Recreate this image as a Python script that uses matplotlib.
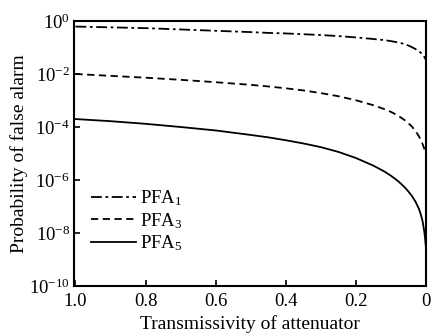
import matplotlib
matplotlib.use("Agg")
import matplotlib.pyplot as plt
import numpy as np

# -----------------------------------------
# Data (log10 of PFA)
# -----------------------------------------

transmissivity = [1.0, 0.9, 0.8, 0.7, 0.6, 0.5, 0.45, 0.4, 0.35, 0.3,
                  0.25, 0.2, 0.15, 0.12, 0.1, 0.08, 0.07, 0.06, 0.05,
                  0.04, 0.03, 0.02, 0.015, 0.01, 0.005, 0.0025, 0.0]

log_pfa1 = [-0.21, -0.24, -0.27, -0.32, -0.37, -0.42, -0.45, -0.47,
            -0.50, -0.53, -0.57, -0.62, -0.68, -0.72, -0.76, -0.81,
            -0.84, -0.88, -0.93, -0.99, -1.06, -1.15, -1.20, -1.27,
            -1.36, -1.42, -1.47]

log_pfa3 = [-2.00, -2.07, -2.14, -2.22, -2.31, -2.41, -2.47, -2.54,
            -2.62, -2.72, -2.84, -2.99, -3.18, -3.32, -3.43, -3.57,
            -3.66, -3.75, -3.86, -3.99, -4.15, -4.36, -4.49, -4.64,
            -4.82, -4.91, -4.98]

log_pfa5 = [-3.70, -3.78, -3.88, -4.00, -4.13, -4.30, -4.39, -4.50,
            -4.62, -4.76, -4.94, -5.17, -5.46, -5.67, -5.84, -6.04,
            -6.16, -6.29, -6.44, -6.61, -6.82, -7.10, -7.30, -7.55,
            -7.95, -8.25, -8.60]

labels = [r"PFA$_1$", r"PFA$_3$", r"PFA$_5$"]

# -----------------------------------------
# Style
# -----------------------------------------

plt.rcParams["font.family"] = "Liberation Serif"
plt.rcParams["mathtext.fontset"] = "custom"
plt.rcParams["mathtext.rm"] = "Liberation Serif"
plt.rcParams["mathtext.it"] = "Liberation Serif:italic"

fig = plt.figure(figsize=(4.33, 3.33), dpi=100)
ax = fig.add_axes([0.171, 0.141, 0.813, 0.796])

t = np.array(transmissivity)

ax.plot(t, 10 ** np.array(log_pfa1), color="black", lw=1.3,
        linestyle=(0, (6, 2, 1.5, 2)), label=labels[0])
ax.plot(t, 10 ** np.array(log_pfa3), color="black", lw=1.3,
        linestyle=(0, (4, 2.5)), label=labels[1])
ax.plot(t, 10 ** np.array(log_pfa5), color="black", lw=1.3,
        linestyle="-", label=labels[2])

ax.set_yscale("log")
ax.set_xlim(1.0 + 0.004, 0.0)
ax.set_ylim(1e-10, 1e0)

ax.set_xticks([1.0, 0.8, 0.6, 0.4, 0.2, 0.0])
ax.set_xticklabels(["1.0", "0.8", "0.6", "0.4", "0.2", "0"])
ax.set_yticks([1e0, 1e-2, 1e-4, 1e-6, 1e-8, 1e-10])
ax.yaxis.set_minor_locator(matplotlib.ticker.NullLocator())

ax.tick_params(direction="in", length=4, width=1.2, labelsize=13.5,
               top=False, right=False)
ax.tick_params(axis="x", pad=5)
ax.tick_params(axis="y", pad=3)

for spine in ax.spines.values():
    spine.set_linewidth(1.5)

ax.set_xlabel("Transmissivity of attenuator", fontsize=14, labelpad=4)
ax.set_ylabel("Probability of false alarm", fontsize=14, labelpad=1)

ax.legend(loc="lower left", bbox_to_anchor=(0.0, 0.06), frameon=False,
          fontsize=13.5, handlelength=2.4, handletextpad=0.2,
          labelspacing=0.15)

fig.savefig("out.png", dpi=100)
